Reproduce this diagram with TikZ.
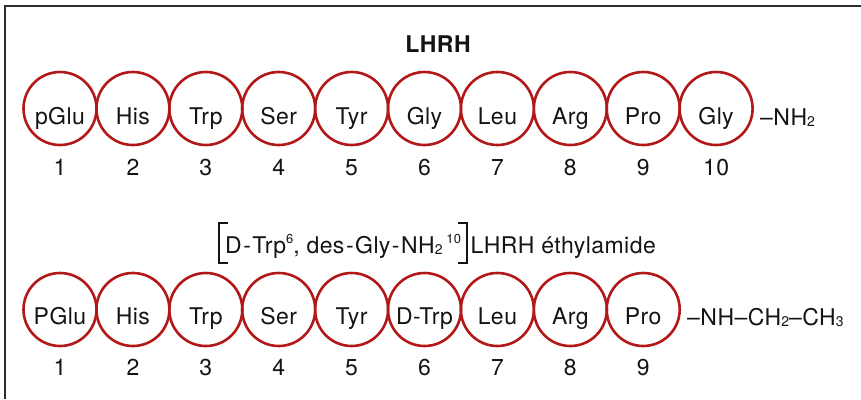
\documentclass[tikz,border=0pt]{standalone}
\usepackage{fontspec}
\setmainfont{TeX Gyre Heros}[LetterSpace=2]
\usetikzlibrary{calc}
\definecolor{ringred}{RGB}{178,24,24}
\definecolor{ink}{RGB}{20,20,20}
\definecolor{rule}{RGB}{45,45,45}
% small inferior and superior figures
\newcommand{\lowfig}[1]{\raisebox{-0.12ex}{\fontsize{14}{14}\selectfont #1}}
\newcommand{\highfig}[1]{\raisebox{0.75ex}{\fontsize{13}{13}\selectfont #1}}
\newcommand{\hy}{\kern1.5pt-\kern1.5pt}
\begin{document}
\begin{tikzpicture}[x=1pt,y=-1pt,
  residue/.style={circle,draw=ringred,line width=2.6pt,minimum size=73pt,inner sep=0pt},
  reslabel/.style={anchor=base,inner sep=0pt,text=ink,font=\fontsize{23}{25}\selectfont},
  posnum/.style={anchor=base,inner sep=0pt,text=ink,font=\fontsize{23}{25}\selectfont},
  caption/.style={anchor=base,inner sep=0pt,text=ink,font=\fontsize{23}{25}\selectfont},
  heading/.style={anchor=base,inner sep=0pt,text=ink,font=\bfseries\fontsize{23}{25}\selectfont},
  framerule/.style={draw=rule,line width=2pt},
  bracket/.style={draw=ink,line width=2pt},
]
\useasboundingbox (0,0) rectangle (861,399);
\draw[framerule] (5,399) -- (5,6) -- (861,6);

% native decapeptide
\node[heading] (title1) at (438,52) {LHRH};
\foreach \i/\res in {1/pGlu,2/His,3/Trp,4/Ser,5/Tyr,6/Gly,7/Leu,8/Arg,9/Pro,10/Gly}{
  \node[residue] (a\i) at ({60+72.9*(\i-1)},108.5) {};
  \node[reslabel] (al\i) at ({60+72.9*(\i-1)},124) {\res};
  \node[posnum] (an\i) at ({60+72.9*(\i-1)},175) {\i};
}
\node[caption,anchor=base west] (tail1) at (760,125) {–NH\lowfig{2}};

% analogue
\coordinate (brtop) at (0,223);
\coordinate (brbot) at (0,263);
\node[caption,anchor=base west] (sub1) at (225,253)
  {D\hy Trp\highfig{6}, des\hy Gly\hy NH\lowfig{2}\,\highfig{10}};
\draw[bracket] ($(sub1.west |- brtop)+(3,0)$) -- ($(sub1.west |- brtop)+(-6,0)$)
  -- ($(sub1.west |- brbot)+(-6,0)$) -- ($(sub1.west |- brbot)+(3,0)$);
\draw[bracket] ($(sub1.east |- brtop)+(-3,0)$) -- ($(sub1.east |- brtop)+(6,0)$)
  -- ($(sub1.east |- brbot)+(6,0)$) -- ($(sub1.east |- brbot)+(-3,0)$);
\node[caption,anchor=base west] (sub2) at ($(sub1.base east)+(9,0)$) {LHRH éthylamide};

\foreach \i/\res in {1/PGlu,2/His,3/Trp,4/Ser,5/Tyr,6/D-Trp,7/Leu,8/Arg,9/Pro}{
  \node[residue] (b\i) at ({60+72.9*(\i-1)},309.5) {};
  \node[reslabel] (bl\i) at ({60+72.9*(\i-1)},324) {\res};
  \node[posnum] (bn\i) at ({60+72.9*(\i-1)},375) {\i};
}
\node[caption,anchor=base west] (tail2) at (687,325) {–NH–CH\lowfig{2}–CH\lowfig{3}};
\end{tikzpicture}
\end{document}
